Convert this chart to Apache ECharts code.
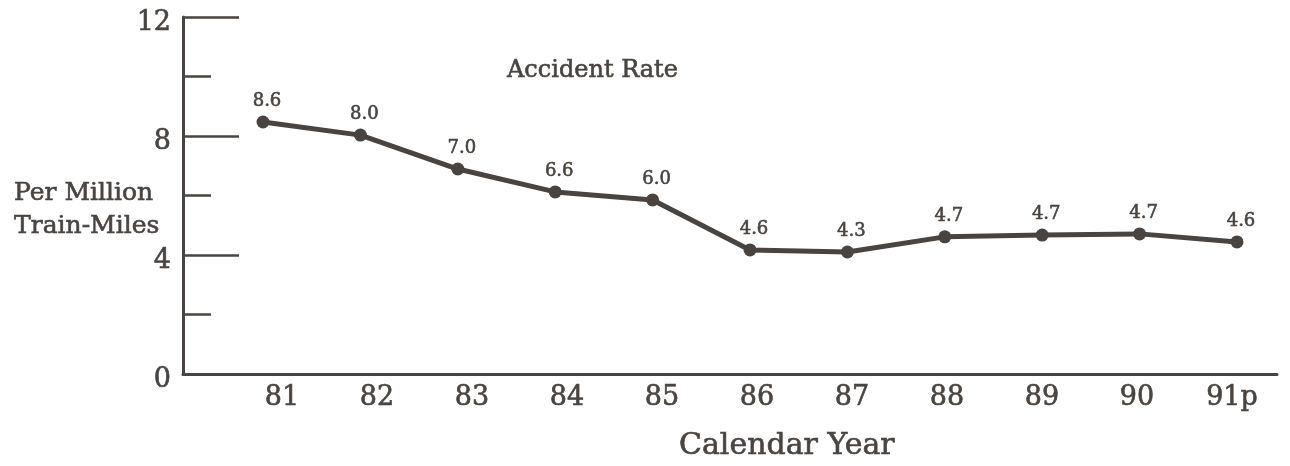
<!DOCTYPE html>
<html>
<head>
<meta charset="utf-8">
<title>Accident Rate</title>
<script src="https://cdn.jsdelivr.net/npm/echarts@6/dist/echarts.min.js"></script>
<style>
  html, body { margin: 0; padding: 0; background: #fff; }
  #chart { width: 1290px; height: 466px; }
</style>
</head>
<body>
<div id="chart"></div>
<script>
// calendar years on the x axis
var years = ['81', '82', '83', '84', '85', '86', '87', '88', '89', '90', '91p']
// where each dot sits on the scale
var rate = [8.47, 8.03, 6.89, 6.12, 5.85, 4.17, 4.10, 4.61, 4.67, 4.71, 4.44]
// numbers printed above the dots
var rateLabels = ['8.6', '8.0', '7.0', '6.6', '6.0', '4.6', '4.3', '4.7', '4.7', '4.7', '4.6']
// y axis
var yMin = 0
var yMax = 12
var yStep = 4

var ink = '#4a4440'
var serif = 'DejaVu Serif'
// the scanned print is heavy, so every text gets a thin outline in the same ink
var heavy = { textBorderColor: ink, textBorderWidth: 0.6 }

var chart = echarts.init(document.getElementById('chart'))

chart.setOption({
  backgroundColor: '#fff',
  animation: false,
  title: [{
    text: 'Accident Rate',
    left: 502,
    top: 54,
    textStyle: Object.assign({ fontFamily: serif, fontSize: 24, fontWeight: 'normal', color: ink }, heavy)
  }, {
    text: 'Per Million\nTrain-Miles',
    left: 9,
    top: 172,
    textStyle: Object.assign({ fontFamily: serif, fontSize: 25, fontWeight: 'normal', color: ink, lineHeight: 33 }, heavy)
  }, {
    text: 'Calendar Year',
    left: 674,
    top: 426,
    textStyle: Object.assign({ fontFamily: serif, fontSize: 30, fontWeight: 'normal', color: ink }, heavy)
  }],
  grid: [
    // frame: y axis + long x axis line
    { left: 183, right: 13, top: 17, bottom: 92 },
    // where the dots go
    { left: 263, right: 53, top: 17, bottom: 92 },
    // year labels
    { left: 282, right: 58, top: 17, bottom: 92 }
  ],
  xAxis: [{
    gridIndex: 0,
    type: 'value',
    min: 0,
    max: 1,
    axisLine: { show: true, lineStyle: { color: ink, width: 3 } },
    axisTick: { show: false },
    axisLabel: { show: false },
    splitLine: { show: false }
  }, {
    gridIndex: 1,
    type: 'category',
    data: years,
    boundaryGap: false,
    show: false
  }, {
    gridIndex: 2,
    type: 'category',
    data: years,
    boundaryGap: false,
    axisLine: { show: false },
    axisTick: { show: false },
    axisLabel: Object.assign({
      margin: 10,
      interval: 0,
      fontFamily: serif,
      fontSize: 27,
      color: ink
    }, heavy)
  }],
  yAxis: [{
    gridIndex: 0,
    type: 'value',
    min: yMin,
    max: yMax,
    interval: yStep,
    axisLine: { show: true, lineStyle: { color: ink, width: 3 } },
    axisTick: { show: true, inside: true, length: 56, lineStyle: { color: ink, width: 2.5 } },
    minorTick: { show: true, splitNumber: 2, length: 28, lineStyle: { color: ink, width: 2.5 } },
    // numbers sit a little below their ticks in the print
    axisLabel: Object.assign({
      margin: 12,
      verticalAlign: 'top',
      lineHeight: 12,
      fontFamily: serif,
      fontSize: 27,
      color: ink
    }, heavy),
    splitLine: { show: false }
  }, {
    gridIndex: 1,
    type: 'value',
    min: yMin,
    max: yMax,
    show: false,
    splitLine: { show: false }
  }, {
    gridIndex: 2,
    type: 'value',
    min: yMin,
    max: yMax,
    show: false,
    splitLine: { show: false }
  }],
  series: [{
    name: 'Accident Rate',
    type: 'line',
    xAxisIndex: 1,
    yAxisIndex: 1,
    data: rate,
    symbol: 'circle',
    symbolSize: 13,
    lineStyle: { color: ink, width: 5 },
    itemStyle: { color: ink },
    label: Object.assign({
      show: true,
      position: 'top',
      distance: 5,
      offset: [4, 0],
      fontFamily: serif,
      fontSize: 18,
      color: ink,
      formatter: function (p) {
        return rateLabels[p.dataIndex]
      }
    }, heavy)
  }]
})
</script>
</body>
</html>
